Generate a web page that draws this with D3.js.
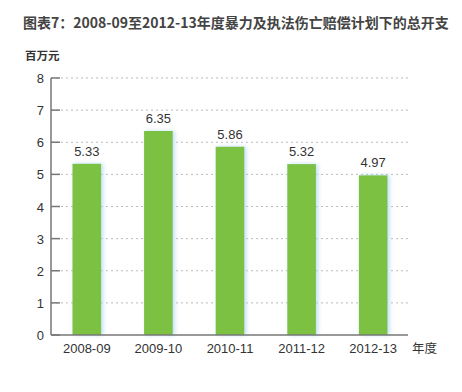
<!DOCTYPE html>
<html lang="zh">
<head>
<meta charset="utf-8">
<script src="https://d3js.org/d3.v7.min.js"></script>
<style>
  body { margin: 0; background: #fff; font-family: Arial, "Liberation Sans", "Noto Sans CJK SC", sans-serif; }
</style>
</head>
<body>
<div id="chart"></div>
<script>
  // data
  const years = ["2008-09", "2009-10", "2010-11", "2011-12", "2012-13"];
  const spend = [5.33, 6.35, 5.86, 5.32, 4.97];
  const yTicks = [0, 1, 2, 3, 4, 5, 6, 7, 8];

  const width = 462, height = 392;
  const plotLeft = 51, plotRight = 409, plotTop = 78, plotBottom = 335;
  const cjk = '"Noto Sans CJK SC", sans-serif';

  const svg = d3.select('#chart').append('svg')
    .attr('width', width)
    .attr('height', height);

  // soft blue glow on the bars
  const defs = svg.append('defs');
  const glow = defs.append('filter').attr('id', 'glow')
    .attr('x', '-30%').attr('y', '-10%').attr('width', '160%').attr('height', '120%');
  glow.append('feGaussianBlur').attr('in', 'SourceAlpha').attr('stdDeviation', 2).attr('result', 'b');
  glow.append('feOffset').attr('in', 'b').attr('dx', 1.5).attr('dy', 0).attr('result', 'o');
  glow.append('feFlood').attr('flood-color', '#a9d4ee').attr('flood-opacity', 0.75);
  glow.append('feComposite').attr('in2', 'o').attr('operator', 'in').attr('result', 's');
  const m = glow.append('feMerge');
  m.append('feMergeNode').attr('in', 's');
  m.append('feMergeNode').attr('in', 'SourceGraphic');

  const x = d3.scaleBand().domain(years).range([plotLeft, plotRight])
    .paddingInner(0.6).paddingOuter(0.3);
  const y = d3.scaleLinear().domain([0, 8]).range([plotBottom, plotTop]);

  // title
  svg.append('text')
    .attr('x', 23).attr('y', 28)
    .attr('font-family', cjk)
    .attr('font-weight', 'bold')
    .attr('font-size', 14)
    .attr('fill', '#444')
    .text('图表7：2008-09至2012-13年度暴力及执法伤亡赔偿计划下的总开支');

  svg.append('text')
    .attr('x', 25).attr('y', 60)
    .attr('font-family', cjk)
    .attr('font-weight', 'bold')
    .attr('font-size', 11.5)
    .attr('fill', '#333')
    .text('百万元');

  // gridlines
  svg.selectAll('.grid')
    .data(yTicks.filter(d => d > 0))
    .enter()
    .append('line')
    .attr('x1', plotLeft).attr('x2', plotRight)
    .attr('y1', d => y(d)).attr('y2', d => y(d))
    .attr('stroke', '#bbb')
    .attr('stroke-dasharray', '2,3');

  // tick marks
  svg.selectAll('.tk')
    .data(yTicks)
    .enter()
    .append('line')
    .attr('x1', plotLeft).attr('x2', plotLeft + 9)
    .attr('y1', d => y(d)).attr('y2', d => y(d))
    .attr('stroke', '#777')
    .attr('stroke-width', 1.5);

  svg.selectAll('.ylab')
    .data(yTicks)
    .enter()
    .append('text')
    .attr('x', 44).attr('y', d => y(d) + 5)
    .attr('text-anchor', 'end')
    .attr('font-size', 13)
    .attr('fill', '#333')
    .text(d => d);

  // bars
  svg.selectAll('.bar')
    .data(spend)
    .enter()
    .append('rect')
    .attr('x', (d, i) => x(years[i]))
    .attr('y', d => y(d))
    .attr('width', x.bandwidth())
    .attr('height', d => plotBottom - y(d))
    .attr('fill', '#7cc142')
    .attr('filter', 'url(#glow)');

  svg.selectAll('.val')
    .data(spend)
    .enter()
    .append('text')
    .attr('x', (d, i) => x(years[i]) + x.bandwidth() / 2)
    .attr('y', d => y(d) - 8)
    .attr('text-anchor', 'middle')
    .attr('font-size', 13)
    .attr('fill', '#333')
    .text(d => d.toFixed(2));

  // axes lines
  svg.append('line')
    .attr('x1', plotLeft).attr('x2', plotLeft)
    .attr('y1', plotTop).attr('y2', plotBottom)
    .attr('stroke', '#777').attr('stroke-width', 1.5);
  svg.append('line')
    .attr('x1', plotLeft).attr('x2', plotRight - 1)
    .attr('y1', plotBottom).attr('y2', plotBottom)
    .attr('stroke', '#777').attr('stroke-width', 1.5);

  svg.selectAll('.xlab')
    .data(years)
    .enter()
    .append('text')
    .attr('x', d => x(d) + x.bandwidth() / 2)
    .attr('y', 353)
    .attr('text-anchor', 'middle')
    .attr('font-size', 13)
    .attr('fill', '#333')
    .text(d => d);

  svg.append('text')
    .attr('x', 412).attr('y', 353)
    .attr('font-family', cjk)
    .attr('font-size', 12.5)
    .attr('fill', '#333')
    .text('年度');
</script>
</body>
</html>
